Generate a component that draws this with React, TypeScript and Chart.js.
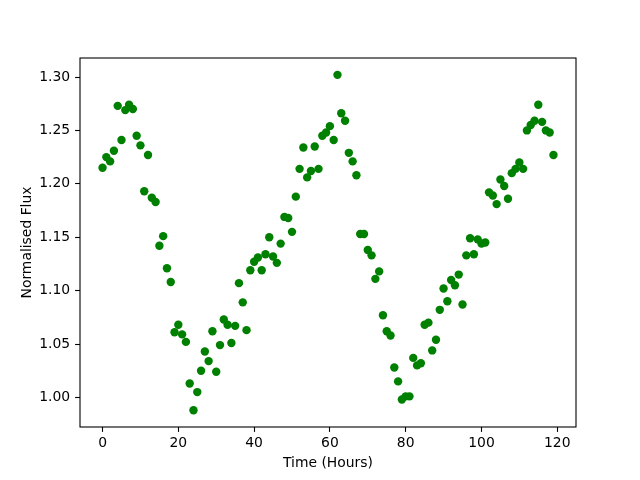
import React, { useEffect, useRef } from "react";
import { Chart, registerables } from "chart.js";

Chart.register(...registerables);

const hours: number[] = [
  0, 1, 2, 3, 4, 5, 6, 7, 8, 9, 10, 11, 12, 13, 14, 15, 16, 17, 18, 19,
  20, 21, 22, 23, 24, 25, 26, 27, 28, 29, 30, 31, 32, 33, 34, 35, 36, 37, 38, 39,
  40, 41, 42, 43, 44, 45, 46, 47, 48, 49, 50, 51, 52, 53, 54, 55, 56, 57, 58, 59,
  60, 61, 62, 63, 64, 65, 66, 67, 68, 69, 70, 71, 72, 73, 74, 75, 76, 77, 78, 79,
  80, 81, 82, 83, 84, 85, 86, 87, 88, 89, 90, 91, 92, 93, 94, 95, 96, 97, 98, 99,
  100, 101, 102, 103, 104, 105, 106, 107, 108, 109, 110, 111, 112, 113, 114, 115, 116, 117, 118, 119,
];

const flux: number[] = [
  1.215, 1.225, 1.221, 1.231, 1.273, 1.241, 1.269, 1.274, 1.27, 1.245,
  1.236, 1.193, 1.227, 1.187, 1.183, 1.142, 1.151, 1.121, 1.108, 1.061,
  1.068, 1.059, 1.052, 1.013, 0.988, 1.005, 1.025, 1.043, 1.034, 1.062,
  1.024, 1.049, 1.073, 1.068, 1.051, 1.067, 1.107, 1.089, 1.063, 1.119,
  1.127, 1.131, 1.119, 1.134, 1.15, 1.132, 1.126, 1.144, 1.169, 1.168,
  1.155, 1.188, 1.214, 1.234, 1.206, 1.212, 1.235, 1.214, 1.245, 1.248,
  1.254, 1.241, 1.302, 1.266, 1.259, 1.229, 1.221, 1.208, 1.153, 1.153,
  1.138, 1.133, 1.111, 1.118, 1.077, 1.062, 1.058, 1.028, 1.015, 0.998,
  1.001, 1.001, 1.037, 1.03, 1.032, 1.068, 1.07, 1.044, 1.054, 1.082,
  1.102, 1.09, 1.11, 1.105, 1.115, 1.087, 1.133, 1.149, 1.134, 1.148,
  1.144, 1.145, 1.192, 1.189, 1.181, 1.204, 1.198, 1.186, 1.21, 1.214,
  1.22, 1.214, 1.25, 1.255, 1.259, 1.274, 1.258, 1.25, 1.248, 1.227,
];

const xTicks: number[] = [0, 20, 40, 60, 80, 100, 120];
const yTicks: number[] = [1.0, 1.05, 1.1, 1.15, 1.2, 1.25, 1.3];

const FONT = "'DejaVu Sans', sans-serif";
const FS = 13.9;

export default function App() {
  const ref = useRef<HTMLCanvasElement | null>(null);

  useEffect(() => {
    if (!ref.current) return;
    const boxPlugin = {
      id: "box",
      afterDraw(chart: any) {
        const { ctx, chartArea } = chart;
        ctx.save();
        ctx.strokeStyle = "#000";
        ctx.lineWidth = 1.1;
        ctx.strokeRect(
          chartArea.left,
          chartArea.top,
          chartArea.right - chartArea.left,
          chartArea.bottom - chartArea.top
        );
        ctx.restore();
      },
    };
    const chart = new Chart(ref.current, {
      type: "scatter",
      data: {
        datasets: [
          {
            data: hours.map((h, i) => ({ x: h, y: flux[i] })),
            backgroundColor: "#008000",
            borderColor: "#008000",
            borderWidth: 0,
            pointRadius: 4.2,
            pointHoverRadius: 4.2,
          },
        ],
      },
      options: {
        responsive: false,
        animation: false,
        devicePixelRatio: 1,
        layout: { padding: { top: 58, right: 64, left: 0, bottom: 0 } },
        plugins: {
          legend: { display: false },
          tooltip: { enabled: false },
        },
        scales: {
          x: {
            type: "linear",
            min: -5.95,
            max: 124.95,
            afterBuildTicks: (s: any) => {
              s.ticks = xTicks.map((v) => ({ value: v }));
            },
            afterFit: (s: any) => {
              s.height = 53;
            },
            border: { display: false },
            grid: {
              display: true,
              drawOnChartArea: false,
              drawTicks: true,
              tickLength: 4.9,
              tickColor: "#000",
              tickWidth: 1.1,
            },
            ticks: {
              color: "#000",
              padding: 3,
              maxRotation: 0,
              autoSkip: false,
              font: { family: FONT, size: FS },
              callback: (v: any) => String(v),
            },
            title: {
              display: true,
              text: "Time (Hours)",
              color: "#000",
              font: { family: FONT, size: FS },
              padding: { top: 0, bottom: 8.7 },
            },
          },
          y: {
            type: "linear",
            min: 0.9723,
            max: 1.3178,
            afterBuildTicks: (s: any) => {
              s.ticks = yTicks.map((v) => ({ value: v }));
            },
            afterFit: (s: any) => {
              s.width = 80;
            },
            border: { display: false },
            grid: {
              display: true,
              drawOnChartArea: false,
              drawTicks: true,
              tickLength: 4.9,
              tickColor: "#000",
              tickWidth: 1.1,
            },
            ticks: {
              color: "#000",
              padding: 4.9,
              autoSkip: false,
              font: { family: FONT, size: FS },
              callback: (v: any) => Number(v).toFixed(2),
            },
            title: {
              display: true,
              text: "Normalised Flux",
              color: "#000",
              font: { family: FONT, size: FS },
              padding: { top: 18.7, bottom: 0 },
            },
          },
        },
      },
      plugins: [boxPlugin],
    });
    return () => chart.destroy();
  }, []);

  return (
    <div style={{ position: "fixed", left: 0, top: 0, width: 640, height: 480, background: "#fff" }}>
      <canvas ref={ref} width={640} height={480} />
    </div>
  );
}
